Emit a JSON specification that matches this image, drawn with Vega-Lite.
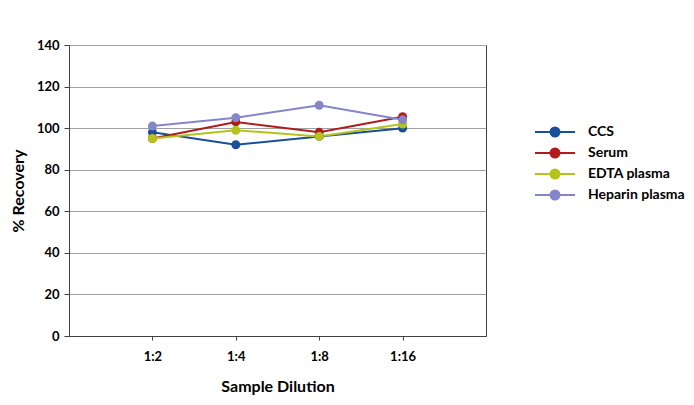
{
  "$schema": "https://vega.github.io/schema/vega-lite/v6.json",
  "width": 417,
  "height": 291,
  "autosize": {"type": "none"},
  "padding": {"left": 69, "top": 45, "right": 208, "bottom": 69},
  "background": "white",
  "config": {
    "font": "Lato",
    "view": {"stroke": "#404040", "strokeWidth": 1}
  },
  "data": {
    "values": [
      {"dilution": "1:2", "sample": "CCS", "recovery": 98},
      {"dilution": "1:4", "sample": "CCS", "recovery": 92},
      {"dilution": "1:8", "sample": "CCS", "recovery": 96},
      {"dilution": "1:16", "sample": "CCS", "recovery": 100},
      {"dilution": "1:2", "sample": "Serum", "recovery": 95},
      {"dilution": "1:4", "sample": "Serum", "recovery": 103},
      {"dilution": "1:8", "sample": "Serum", "recovery": 98},
      {"dilution": "1:16", "sample": "Serum", "recovery": 105.5},
      {"dilution": "1:2", "sample": "EDTA plasma", "recovery": 95},
      {"dilution": "1:4", "sample": "EDTA plasma", "recovery": 99},
      {"dilution": "1:8", "sample": "EDTA plasma", "recovery": 96},
      {"dilution": "1:16", "sample": "EDTA plasma", "recovery": 102},
      {"dilution": "1:2", "sample": "Heparin plasma", "recovery": 101},
      {"dilution": "1:4", "sample": "Heparin plasma", "recovery": 105},
      {"dilution": "1:8", "sample": "Heparin plasma", "recovery": 111},
      {"dilution": "1:16", "sample": "Heparin plasma", "recovery": 104}
    ]
  },
  "mark": {"type": "line", "strokeWidth": 2, "point": {"filled": true, "size": 80, "opacity": 1}},
  "encoding": {
    "x": {
      "field": "dilution",
      "type": "ordinal",
      "sort": ["1:2", "1:4", "1:8", "1:16"],
      "scale": {"type": "point", "padding": 1},
      "axis": {
        "title": "Sample Dilution",
        "titleFontSize": 16,
        "titleFontWeight": "bold",
        "titleColor": "#000",
        "titlePadding": 15,
        "labelAngle": 0,
        "labelFontSize": 13,
        "labelFontWeight": "bold",
        "labelColor": "#000",
        "labelPadding": 10,
        "domainColor": "#404040",
        "tickColor": "#404040",
        "tickSize": 4,
        "grid": false
      }
    },
    "y": {
      "field": "recovery",
      "type": "quantitative",
      "scale": {"domain": [0, 140], "nice": false},
      "axis": {
        "title": "% Recovery",
        "values": [0, 20, 40, 60, 80, 100, 120, 140],
        "titleFontSize": 16,
        "titleFontWeight": "bold",
        "titleColor": "#000",
        "titlePadding": 10,
        "labelFontSize": 13,
        "labelFontWeight": "bold",
        "labelColor": "#000",
        "labelPadding": 5,
        "domainColor": "#404040",
        "tickColor": "#404040",
        "tickSize": 5,
        "grid": true,
        "gridColor": "#a0a0a0",
        "gridWidth": 1
      }
    },
    "color": {
      "field": "sample",
      "type": "nominal",
      "sort": ["CCS", "Serum", "EDTA plasma", "Heparin plasma"],
      "scale": {
        "domain": ["CCS", "Serum", "EDTA plasma", "Heparin plasma"],
        "range": ["#1a4f9a", "#b01c1c", "#b4c41a", "#8585c8"]
      },
      "legend": {
        "title": null,
        "orient": "none",
        "legendX": 475,
        "legendY": 76,
        "symbolType": "M-2,0H2M-0.45,0A0.45,0.45 0 1,0 0.45,0A0.45,0.45 0 1,0 -0.45,0Z",
        "symbolSize": 400,
        "symbolStrokeWidth": 2,
        "labelOffset": 22,
        "labelFontSize": 14,
        "labelFontWeight": "bold",
        "labelColor": "#000",
        "rowPadding": 1,
        "padding": 0,
        "encode": {
          "symbols": {"update": {"fill": {"scale": "color", "field": "value"}, "fillOpacity": {"value": 1}}}
        }
      }
    }
  }
}
